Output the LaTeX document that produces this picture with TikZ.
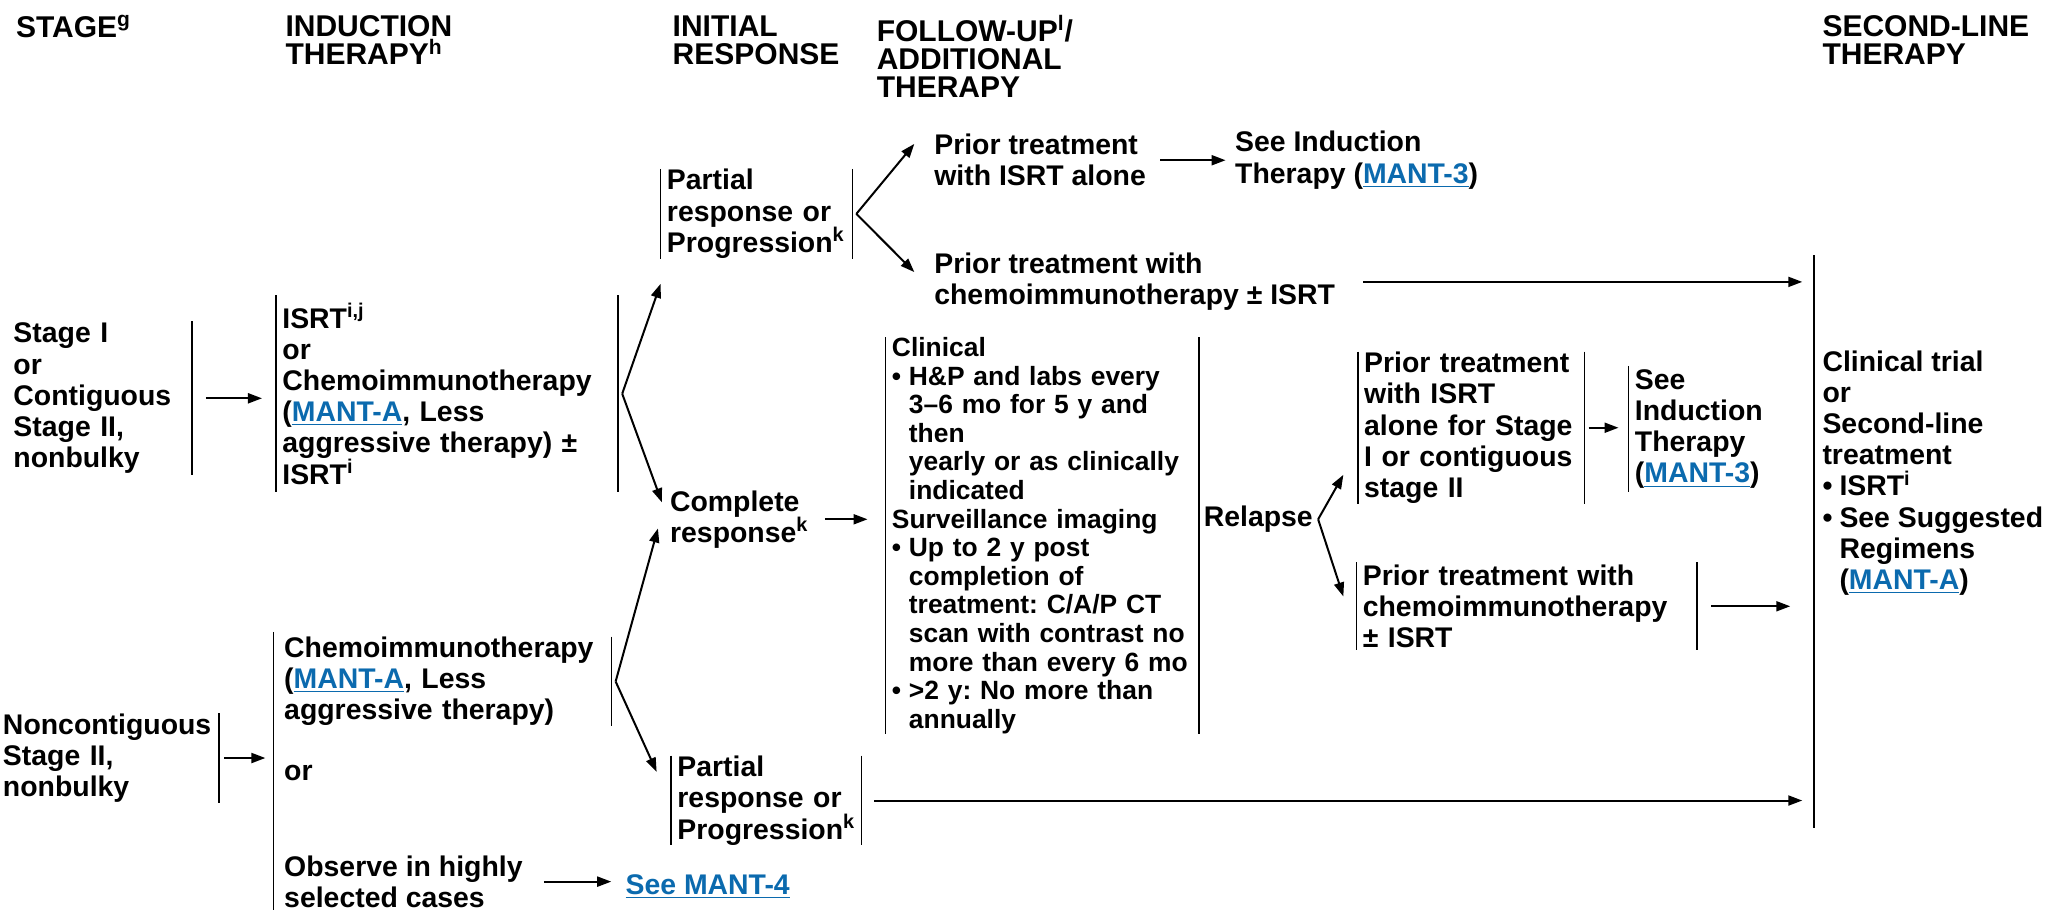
\documentclass[tikz,border=0pt]{standalone}
\usepackage{fontspec}
\setmainfont{Liberation Sans}
\usetikzlibrary{arrows.meta}
\definecolor{linkblue}{HTML}{0B6AAE}
\newcommand{\bodyfont}{\fontsize{14.2}{15.6}\selectfont\bfseries}
\newcommand{\smallbody}{\fontsize{13.2}{14.3}\selectfont\bfseries}
\newcommand{\hdrfont}{\fontsize{15}{14.1}\selectfont\bfseries}
\newcommand{\lnk}[1]{\textcolor{linkblue}{\underline{#1}}}
\newcommand{\bpt}{\makebox[8.5pt][l]{\textbullet}}
\newcommand{\bind}{\hspace*{8.5pt}}
\frenchspacing
\hyphenpenalty=10000
\exhyphenpenalty=10000

\begin{document}
\begin{tikzpicture}[x=0.654pt, y=-0.654pt,
  hdr/.style={anchor=north west, align=left, inner sep=0pt, font=\hdrfont},
  txt/.style={anchor=west, align=left, inner sep=0pt, font=\bodyfont},
  box/.style={anchor=west, align=left, inner xsep=3pt, inner ysep=0pt, font=\bodyfont},
  arr/.style={-{Triangle[length=7pt,width=5pt]}, line width=1pt},
  bar/.style={line width=0.8pt}]

\useasboundingbox (0,0) rectangle (1568,696);

% column heads
\node[hdr] (hstage) at (12,11.5) {STAGE\textsuperscript{g}};
\node[hdr] (hinduct) at (218,11.5) {INDUCTION\\THERAPY\textsuperscript{h}};
\node[hdr] (hinit) at (514,11.5) {INITIAL\\RESPONSE};
\node[hdr] (hfollow) at (670,11.5) {FOLLOW-UP\textsuperscript{l}/\\ADDITIONAL\\THERAPY};
\node[hdr] (hsecond) at (1393,11.5) {SECOND-LINE\\THERAPY};

% stage and induction
\node[box, text width=86pt, minimum height=76.5pt] (stage1) at (5.4,304.5) {Stage I\\or\\Contiguous\\Stage II,\\nonbulky};
\draw[bar] (stage1.north east) -- (stage1.south east);
\node[box, text width=164.7pt, minimum height=98.1pt] (isrt) at (211,301) {ISRT\textsuperscript{i,j}\\or\\Chemoimmunotherapy\\(\lnk{MANT-A}, Less\\aggressive therapy) ±\\ISRT\textsuperscript{i}};
\draw[bar] (isrt.north west) -- (isrt.south west);
\draw[bar] (isrt.north east) -- (isrt.south east);

\node[box, text width=104.9pt, minimum height=39.9pt] (noncont) at (-2.6,579.5) {Noncontiguous\\Stage II,\\nonbulky};
\draw[bar] (noncont.north east) -- (noncont.south east);
\coordinate (obstop) at (209,483);
\coordinate (obsbot) at (209,696);
\draw[bar] (obstop) -- (obsbot);
\node[box, text width=160.5pt, minimum height=43.2pt] (chemo2) at (212.4,521) {Chemoimmunotherapy\\(\lnk{MANT-A}, Less\\aggressive therapy)};
\draw[bar] (chemo2.north east) -- (chemo2.south east);
\node[txt] (or2) at (217,591) {or};
\node[txt] (observe) at (217,674) {Observe in highly\\selected cases};
\node[txt, text=linkblue] (mant4) at (478,678) {\underline{See MANT-4}};

% responses
\node[box, text width=89.5pt, minimum height=43.8pt] (part1) at (505,163.5) {Partial\\response or\\Progression\textsuperscript{k}};
\draw[bar] (part1.north west) -- (part1.south west);
\draw[bar] (part1.north east) -- (part1.south east);
\node[txt] (complete) at (512,397) {Complete\\response\textsuperscript{k}};
\node[box, text width=88.8pt, minimum height=42.5pt] (part2) at (513,612) {Partial\\response or\\Progression\textsuperscript{k}};
\draw[bar] (part2.north west) -- (part2.south west);
\draw[bar] (part2.north east) -- (part2.south east);

% follow-up
\node[txt] (prisrt) at (714,122.5) {Prior treatment\\with ISRT alone};
\node[txt] (seeind1) at (944,122.5) {See Induction\\Therapy (\lnk{MANT-3})};
\node[txt] (prichemo) at (714,215.5) {Prior treatment with\\chemoimmunotherapy ± ISRT};
\node[box, font=\smallbody, text width=150.3pt, minimum height=196.9pt] (followup) at (677,409.5) {Clinical\\
\bpt H\&P and labs every\\
\bind 3–6 mo for 5 y and\\
\bind then\\
\bind yearly or as clinically\\
\bind indicated\\
Surveillance imaging\\
\bpt Up to 2 y post\\
\bind completion of\\
\bind treatment: C/A/P CT\\
\bind scan with contrast no\\
\bind more than every 6 mo\\
\bpt >2 y: No more than\\
\bind annually};
\draw[bar] (followup.north west) -- (followup.south west);
\draw[bar] (followup.north east) -- (followup.south east);
\node[txt] (relapse) at (920,397) {Relapse};
\node[box, text width=107pt, minimum height=74.6pt] (relisrt) at (1038,327) {Prior treatment\\with ISRT\\alone for Stage\\I or contiguous\\stage II};
\draw[bar] (relisrt.north west) -- (relisrt.south west);
\draw[bar] (relisrt.north east) -- (relisrt.south east);
\node[box, text width=80pt, minimum height=62.8pt] (seeind2) at (1245,328) {See\\Induction\\Therapy\\(\lnk{MANT-3})};
\draw[bar] (seeind2.north west) -- (seeind2.south west);
\node[box, text width=164pt, minimum height=43.8pt] (relchemo) at (1037,463.5) {Prior treatment with\\chemoimmunotherapy\\± ISRT};
\draw[bar] (relchemo.north west) -- (relchemo.south west);
\draw[bar] (relchemo.north east) -- (relchemo.south east);

% second-line
\coordinate (sltop) at (1387,195);
\coordinate (slbot) at (1387,633);
\draw[bar] (sltop) -- (slbot);
\node[txt] (second) at (1393,361.5) {Clinical trial\\or\\Second-line\\treatment\\\bpt ISRT\textsuperscript{i}\\\bpt See Suggested\\\bind Regimens\\\bind (\lnk{MANT-A})};

% arrows
\coordinate (up1) at (505,217);
\coordinate (dn1) at (506,384);
\coordinate (up2) at (503,404);
\coordinate (dn2) at (502,590);
\coordinate (up3) at (699,110);
\coordinate (dn3) at (699,208);
\coordinate (up4) at (1027,363);
\coordinate (dn4) at (1027,456);
\draw[arr, shorten <=7pt, shorten >=7pt] (stage1.east) -- (isrt.west |- stage1.east);
\draw[arr, shorten <=2.6pt, shorten >=4pt] (noncont.east) -- (obstop |- noncont.east);
\draw[arr] ([xshift=2pt]isrt.east) -- (up1);
\draw[arr] ([xshift=2pt]isrt.east) -- (dn1);
\draw[arr] ([xshift=2pt]chemo2.east) -- (up2);
\draw[arr] ([xshift=2pt]chemo2.east) -- (dn2);
\draw[arr] ([xshift=2pt]part1.east) -- (up3);
\draw[arr] ([xshift=2pt]part1.east) -- (dn3);
\draw[arr, shorten <=7pt, shorten >=4.6pt] (prisrt.east) -- (seeind1.west);
\draw[arr, shorten <=14pt, shorten >=6pt] (prichemo.east) -- (sltop |- prichemo.east);
\draw[arr, shorten <=8pt, shorten >=9pt] (complete.east) -- (followup.west |- complete.east);
\draw[arr] ([xshift=2.5pt]relapse.east) -- (up4);
\draw[arr] ([xshift=2.5pt]relapse.east) -- (dn4);
\draw[arr, shorten <=2pt, shorten >=5pt] (relisrt.east) -- (seeind2.west |- relisrt.east);
\draw[arr, shorten <=7pt, shorten >=12pt] (relchemo.east) -- (sltop |- relchemo.east);
\draw[arr, shorten <=6.5pt, shorten >=6pt] (part2.east) -- (sltop |- part2.east);
\draw[arr, shorten <=10.5pt, shorten >=7pt] (observe.east) -- (mant4.west |- observe.east);

\end{tikzpicture}
\end{document}
